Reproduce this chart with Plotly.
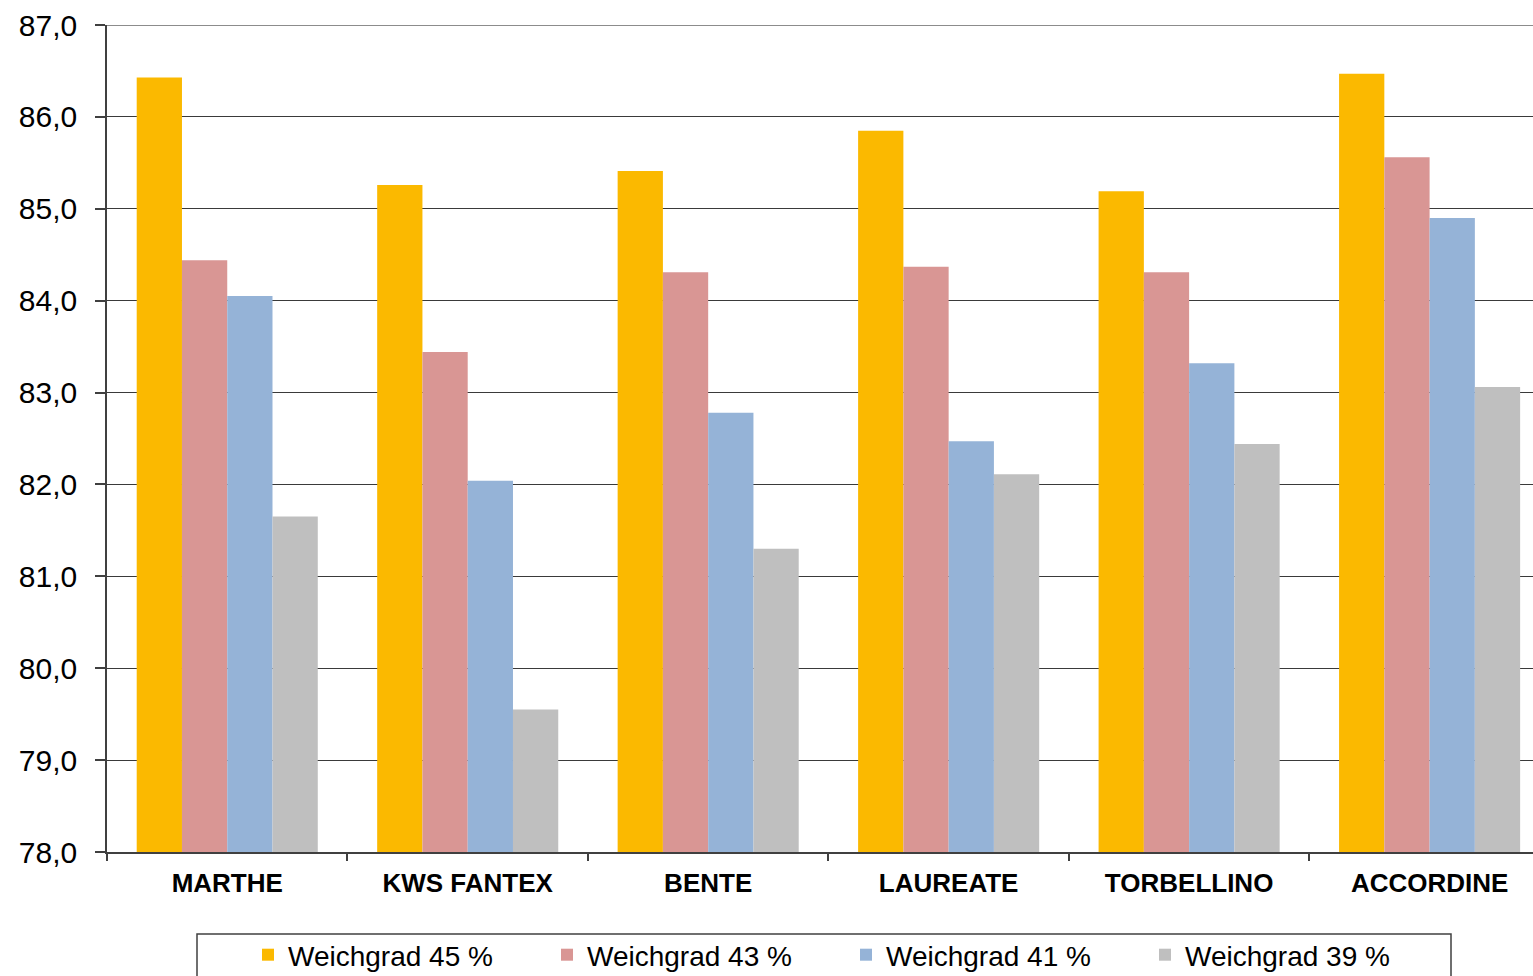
import plotly.graph_objects as go

# Varieties and four steeping degree series
sorten = ["MARTHE", "KWS FANTEX", "BENTE", "LAUREATE", "TORBELLINO", "ACCORDINE"]
wg45 = [86.43, 85.26, 85.41, 85.85, 85.19, 86.47]
wg43 = [84.44, 83.44, 84.31, 84.37, 84.31, 85.56]
wg41 = [84.05, 82.04, 82.78, 82.47, 83.32, 84.90]
wg39 = [81.65, 79.55, 81.30, 82.11, 82.44, 83.06]

series_names = ["Weichgrad 45 %", "Weichgrad 43 %", "Weichgrad 41 %", "Weichgrad 39 %"]
series_values = [wg45, wg43, wg41, wg39]
colors = ["#FBB900", "#D99694", "#95B3D7", "#BFBFBF"]

y_ticks = [78, 79, 80, 81, 82, 83, 84, 85, 86, 87]

W, H = 1533, 976
ML, MT, MB = 107, 25, 124
plot_w = W - ML
plot_h = H - MT - MB

fig = go.Figure()
for name, vals, col in zip(series_names, series_values, colors):
    fig.add_trace(go.Bar(
        x=sorten, y=vals, name=name,
        marker=dict(color=col, line=dict(width=0)),
    ))

def px_x(p):
    return (p - ML) / plot_w

def px_y(p):
    return 1 - (p - MT) / plot_h

# legend frame and top border
fig.add_shape(type="rect", xref="paper", yref="paper",
              x0=px_x(197), x1=px_x(1451), y0=px_y(990), y1=px_y(934),
              line=dict(color="#404040", width=1.5), fillcolor="white", layer="below")
fig.add_shape(type="line", xref="paper", yref="y",
              x0=0, x1=1, y0=87, y1=87,
              line=dict(color="#8c8c8c", width=2))

fig.update_layout(
    width=W, height=H,
    margin=dict(l=ML, r=0, t=MT, b=MB, pad=0, autoexpand=False),
    plot_bgcolor="white", paper_bgcolor="white",
    barmode="group", bargap=0.247, bargroupgap=0,
    separators=",.",
    font=dict(family="Liberation Sans, Arial, sans-serif", color="#000000"),
    showlegend=True,
    legend=dict(
        orientation="h", x=px_x(248), xanchor="left",
        y=px_y(930), yanchor="top",
        font=dict(size=28, color="#000000"),
        entrywidth=254, entrywidthmode="pixels",
        itemwidth=30, bgcolor="rgba(0,0,0,0)", borderwidth=0,
        itemclick=False,
    ),
    xaxis=dict(
        range=[-0.5, 5.43],
        showgrid=False,
        showline=True, linecolor="#404040", linewidth=1.5,
        ticks="outside", tickson="boundaries", ticklen=7, tickcolor="#404040",
        tickwidth=1.5,
        tickfont=dict(size=26, family="Liberation Sans, Arial, sans-serif", weight="bold"),
        ticklabelstandoff=7,
        fixedrange=True,
    ),
    yaxis=dict(
        range=[78, 87],
        tickvals=y_ticks, tickformat=".1f",
        showgrid=True, gridcolor="#3a3a3a", gridwidth=1,
        showline=True, linecolor="#404040", linewidth=1.5,
        ticks="outside", ticklen=10, tickcolor="#404040", tickwidth=1.5,
        tickfont=dict(size=30),
        ticklabelstandoff=12,
        zeroline=False,
        fixedrange=True,
    ),
)

fig.write_html("out.html")
